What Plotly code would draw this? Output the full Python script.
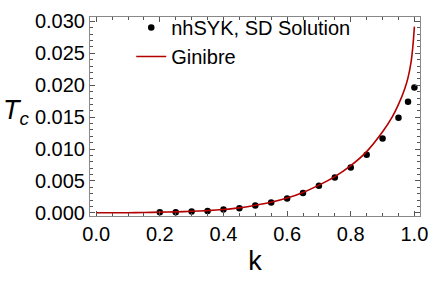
import plotly.graph_objects as go

# nhSYK, SD Solution (points)
k_sd = [0.20, 0.25, 0.30, 0.35, 0.40, 0.45, 0.50, 0.55, 0.60, 0.65, 0.70,
        0.75, 0.80, 0.85, 0.90, 0.95, 0.98, 1.00]
tc_sd = [0.00010, 0.00008, 0.00020, 0.00030, 0.00050, 0.00072, 0.00115,
         0.00160, 0.00225, 0.00312, 0.00424, 0.00553, 0.00711, 0.00912,
         0.01166, 0.01490, 0.01740, 0.01965]

# Ginibre (curve)
k_gin = [0.0, 0.05, 0.10, 0.15, 0.20, 0.25, 0.30, 0.35, 0.40, 0.45, 0.50, 0.55,
         0.60, 0.65, 0.70, 0.75, 0.80, 0.85, 0.90, 0.93, 0.95, 0.97, 0.98,
         0.99, 0.995, 0.998, 1.0]
tc_gin = [0.0, 0.0, 0.00001, 0.00004, 0.00010, 0.00015, 0.00024, 0.00035,
          0.00052, 0.00077, 0.00118, 0.00166, 0.00232, 0.00320, 0.00434,
          0.00568, 0.00740, 0.00960, 0.01270, 0.01500, 0.01700, 0.01950,
          0.02120, 0.02380, 0.02600, 0.02780, 0.02920]

x_ticks = [0.0, 0.2, 0.4, 0.6, 0.8, 1.0]
y_ticks = [0.000, 0.005, 0.010, 0.015, 0.020, 0.025, 0.030]

font = "Liberation Sans, Arial, sans-serif"
red = "#B30000"

fig = go.Figure()
fig.add_trace(go.Scatter(x=k_sd, y=tc_sd, mode="markers", name="nhSYK, SD Solution",
                         marker=dict(color="black", size=6.5)))
fig.add_trace(go.Scatter(x=k_gin, y=tc_gin, mode="lines", name="Ginibre",
                         line=dict(color=red, width=1.6, shape="spline", smoothing=0.6)))

axis_common = dict(showgrid=False, zeroline=False, showline=True, linecolor="#888888",
                   linewidth=1, mirror="ticks", ticks="inside", ticklen=5,
                   tickcolor="#555555", tickwidth=1, ticklabeloverflow="allow",
                   tickfont=dict(family=font, size=20, color="black"))

fig.update_xaxes(range=[-0.0194, 1.0176], tickvals=x_ticks,
                 ticktext=[f"{v:.1f}" for v in x_ticks],
                 minor=dict(dtick=0.05, ticks="inside", ticklen=3, tickcolor="#555555"),
                 title=dict(text="k", font=dict(family=font, size=27, color="black"), standoff=7),
                 **axis_common)
fig.update_yaxes(range=[-0.0005, 0.0307], tickvals=y_ticks,
                 ticktext=[f"{v:.3f}" for v in y_ticks],
                 minor=dict(dtick=0.001, ticks="inside", ticklen=3, tickcolor="#555555"),
                 **axis_common)

fig.add_annotation(text="<i>T</i><sub><i>c</i></sub>", xref="paper", yref="paper",
                   x=-0.222, y=0.524, xanchor="center", yanchor="middle", showarrow=False,
                   font=dict(family=font, size=27, color="black"))

fig.update_layout(width=436, height=283, margin=dict(l=90, r=10, t=8, b=67),
                  plot_bgcolor="white", paper_bgcolor="white",
                  legend=dict(x=0.125, y=1.045, xanchor="left", yanchor="top",
                              bgcolor="rgba(0,0,0,0)", tracegroupgap=0,
                              font=dict(family=font, size=20, color="black")),
                  showlegend=True)

fig.write_html("out.html", config={"displayModeBar": False},
               post_script="document.body.style.margin='0px';document.body.style.overflow='hidden';")
